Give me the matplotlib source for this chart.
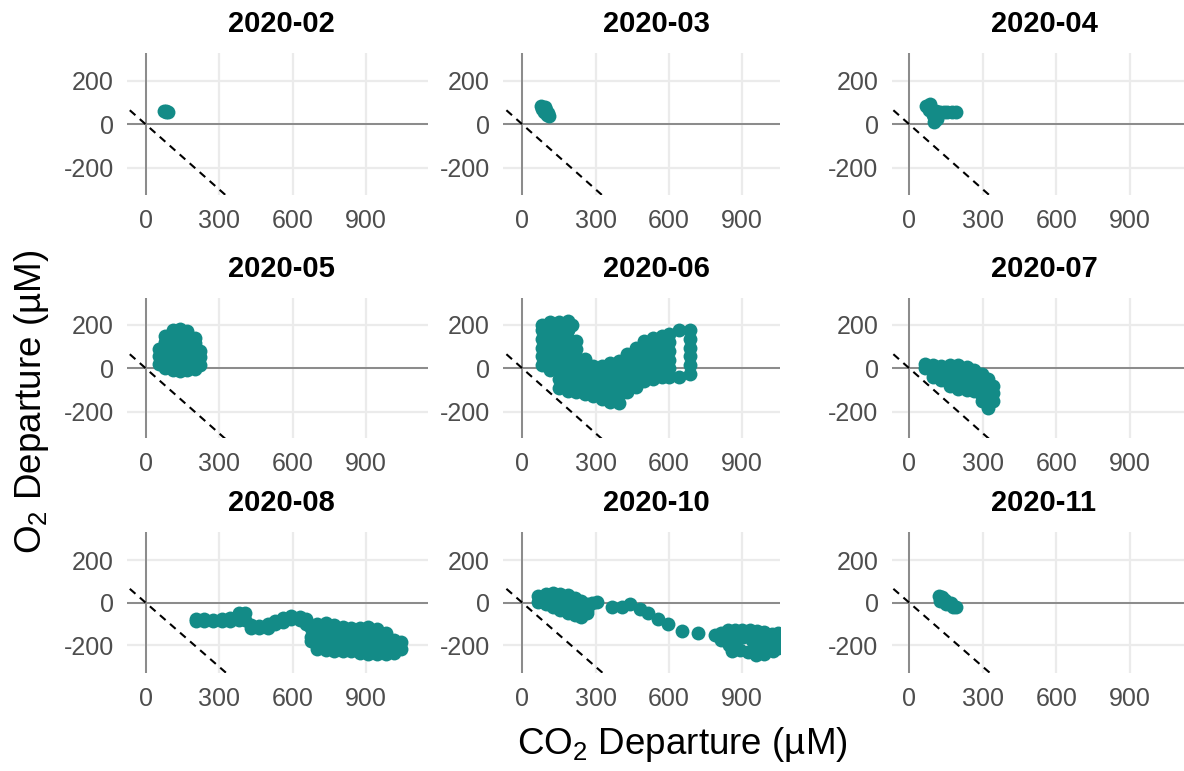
import matplotlib
matplotlib.use("Agg")
import matplotlib.pyplot as plt

plt.rcParams['font.family'] = ['Liberation Sans', 'DejaVu Sans']
plt.rcParams['axes.unicode_minus'] = False
plt.rcParams['mathtext.fontset'] = 'custom'
plt.rcParams['mathtext.rm'] = 'Liberation Sans'
plt.rcParams['mathtext.it'] = 'Liberation Sans'

# ---- data: (CO2 departure, O2 departure) in µM, one list per month ----
months = ['2020-02', '2020-03', '2020-04',
          '2020-05', '2020-06', '2020-07',
          '2020-08', '2020-10', '2020-11']

pts_2020_02 = [(73, 60), (82, 56), (90, 58), (85, 62)]

pts_2020_03 = [(76, 84), (92, 82), (82, 70), (96, 66), (90, 56), (104, 54),
               (100, 42), (108, 40)]

pts_2020_04 = [(70, 85), (85, 95), (80, 65), (95, 45), (100, 12), (110, 60),
               (115, 25), (125, 55), (140, 55), (155, 58), (115, 40),
               (175, 55), (190, 56)]

pts_2020_05 = [(55, 20), (55, 55), (55, 90),
               (80, 0), (80, 40), (80, 80), (80, 120), (80, 150),
               (110, -8), (110, 30), (110, 70), (110, 110), (110, 150), (110, 175),
               (140, -12), (140, 25), (140, 65), (140, 105), (140, 145), (140, 180),
               (170, -10), (170, 30), (170, 70), (170, 110), (170, 150), (170, 170),
               (200, -5), (200, 35), (200, 75), (200, 115), (200, 138),
               (220, 15), (220, 50), (220, 80)]

pts_2020_06 = [(80, 15), (80, 55), (80, 95), (80, 135), (80, 175), (80, 200),
               (115, -10), (115, 30), (115, 70), (115, 110), (115, 150), (115, 190), (115, 215),
               (150, -90), (150, -50), (150, -10), (150, 30), (150, 70), (150, 110),
               (150, 150), (150, 190), (150, 215),
               (185, -105), (185, -65), (185, -25), (185, 15), (185, 55), (185, 95),
               (185, 135), (185, 175), (185, 220), (205, 200),
               (220, -110), (220, -70), (220, -30), (220, 10), (220, 50), (220, 90),
               (220, 125),
               (255, -120), (255, -80), (255, -40), (255, 0), (255, 45),
               (290, -130), (290, -90), (290, -50), (290, -10), (290, 10),
               (325, -140), (325, -100), (325, -60), (325, -20), (325, 10),
               (360, -155), (360, -120), (360, -80), (360, -40), (360, 0), (360, 25),
               (395, -160), (395, -125), (395, -85), (395, -45), (395, -5), (395, 35),
               (430, -110), (430, -70), (430, -30), (430, 10), (430, 50), (430, 65),
               (465, -85), (465, -45), (465, -5), (465, 35), (465, 75), (465, 95),
               (500, -60), (500, -20), (500, 20), (500, 60), (500, 100), (500, 125),
               (535, -50), (535, -10), (535, 30), (535, 70), (535, 110), (535, 140),
               (570, -40), (570, 0), (570, 40), (570, 80), (570, 120), (570, 150),
               (600, -40), (600, 0), (600, 40), (600, 80), (600, 120), (600, 160),
               (640, -40), (640, 175),
               (685, -25), (685, 15), (685, 55), (685, 95), (685, 135), (685, 175)]

pts_2020_07 = [(65, 22), (65, 0),
               (95, 15), (95, -15), (95, -40),
               (130, 12), (130, -20), (130, -55),
               (165, 15), (165, -20), (165, -55), (165, -80),
               (200, 15), (200, -20), (200, -55), (200, -95),
               (235, 5), (235, -30), (235, -65), (235, -100),
               (265, -10), (265, -45), (265, -80), (265, -105),
               (295, -25), (295, -60), (295, -95), (295, -130), (295, -150),
               (320, -50), (320, -85), (320, -120), (320, -155), (320, -185),
               (340, -80), (340, -115), (340, -150)]

pts_2020_08 = [(205, -75), (205, -88), (240, -78), (240, -88), (275, -80), (275, -88),
               (310, -78), (310, -88), (345, -70), (345, -88), (380, -50), (380, -80),
               (405, -50), (405, -80), (430, -105), (430, -120), (465, -110), (465, -120),
               (500, -100), (500, -118), (530, -85), (530, -100), (560, -70), (560, -90),
               (595, -62), (595, -75), (630, -65), (630, -80), (655, -75), (655, -100),
               (675, -120), (675, -160), (675, -180),
               (700, -100), (700, -140), (700, -180), (700, -215),
               (735, -95), (735, -135), (735, -175), (735, -220),
               (770, -105), (770, -145), (770, -185), (770, -225),
               (805, -115), (805, -150), (805, -190), (805, -228),
               (840, -118), (840, -155), (840, -195), (840, -228),
               (875, -120), (875, -160), (875, -200), (875, -235),
               (910, -115), (910, -155), (910, -195), (910, -240),
               (945, -125), (945, -165), (945, -205), (945, -242),
               (980, -140), (980, -180), (980, -215), (980, -242),
               (1015, -175), (1015, -210), (1015, -235),
               (1045, -185), (1045, -215)]

pts_2020_10 = [(65, 30), (65, 5),
               (95, 40), (95, 12), (95, -8),
               (125, 45), (125, 15), (125, -18),
               (155, 43), (155, 13), (155, -20), (155, -35),
               (185, 35), (185, 5), (185, -25), (185, -48),
               (215, 22), (215, -8), (215, -38), (215, -58),
               (240, 8), (240, -22), (240, -50), (240, -65),
               (265, -5), (265, -35), (265, -50),
               (285, 0), (304, 5), (366, -19), (406, -19), (440, -6), (481, -31),
               (516, -50), (556, -78), (597, -100), (652, -131), (720, -140),
               (790, -150), (815, -140), (815, -175), (840, -165), (845, -200),
               (868, -188), (860, -228),
               (840, -130), (870, -128), (900, -128), (930, -130), (960, -132),
               (990, -138), (1020, -145), (1045, -140),
               (905, -160), (938, -175), (970, -170), (1000, -170), (995, -200),
               (1020, -190), (1045, -175), (1045, -210),
               (890, -220), (925, -232), (960, -228), (955, -245), (990, -240),
               (1025, -225)]

pts_2020_11 = [(120, 30), (125, 10), (135, 25), (145, 15), (150, -5), (170, 0),
               (180, -20), (192, -22)]

x_ticks = [0, 300, 600, 900]
y_ticks = [-200, 0, 200]
ref_co2 = [-65, 340]          # 1:1 reference line, O2 = -CO2

panel_points = [pts_2020_02, pts_2020_03, pts_2020_04,
                pts_2020_05, pts_2020_06, pts_2020_07,
                pts_2020_08, pts_2020_10, pts_2020_11]

# ---- layout (figure pixels) ----
W, H = 1184, 771
col_px = [(127, 428.3), (503.3, 780), (891.7, 1184)]
col_xlim = [(-76.4, 1154.9), (-77.7, 1054.4), (-71.8, 1120.8)]
row_px = [(53, 195), (298.3, 438.3), (531.7, 673.3)]
row_ylim = [(-326, 329), (-323, 323), (-330.7, 332.6)]
title_x = [281.7, 656, 1044]

point_color = '#138B87'
grid_color = '#EBEBEB'
zero_color = '#8A8A8A'
tick_color = '#4D4D4D'

fig = plt.figure(figsize=(W / 100, H / 100), dpi=100)
fig.patch.set_facecolor('white')

for i, (month, pts) in enumerate(zip(months, panel_points)):
    r, c = divmod(i, 3)
    x0, x1 = col_px[c]
    y0, y1 = row_px[r]
    ax = fig.add_axes([x0 / W, 1 - y1 / H, (x1 - x0) / W, (y1 - y0) / H])
    ax.set_xlim(*col_xlim[c])
    ax.set_ylim(*row_ylim[r])
    for s in ax.spines.values():
        s.set_visible(False)
    ax.set_xticks(x_ticks)
    ax.set_yticks(y_ticks)
    ax.set_xticklabels([str(v) for v in x_ticks])
    ax.set_yticklabels([str(v) for v in y_ticks])
    ax.tick_params(length=0, labelsize=18, labelcolor=tick_color)
    ax.tick_params(axis='x', pad=10)
    ax.tick_params(axis='y', pad=9.5)
    ax.grid(True, color=grid_color, linewidth=1.6, zorder=0)
    ax.set_axisbelow(True)
    ax.axhline(0, color=zero_color, linewidth=1.4, zorder=1)
    ax.axvline(0, color=zero_color, linewidth=1.4, zorder=1)
    ax.plot(ref_co2, [-v for v in ref_co2], color='black', linewidth=1.5,
            linestyle=(0, (3.6, 2.8)), zorder=2)
    xs = [p[0] for p in pts]
    ys = [p[1] for p in pts]
    ax.scatter(xs, ys, s=100, color=point_color, linewidths=0, zorder=3)
    fig.text(title_x[c] / W, 1 - (y0 - 21) / H, month, ha='center',
             va='baseline', fontsize=21, fontweight='bold', color='black')

fig.text(682 / W, 1 - 745 / H, r'CO$_2$ Departure (µM)', ha='center',
         va='center', fontsize=26.5, color='black')
fig.text(31.5 / W, 1 - 402 / H, r'O$_2$ Departure (µM)', ha='center',
         va='center', rotation=90, fontsize=26.5, color='black')

fig.savefig('out.png', dpi=100, facecolor='white')
